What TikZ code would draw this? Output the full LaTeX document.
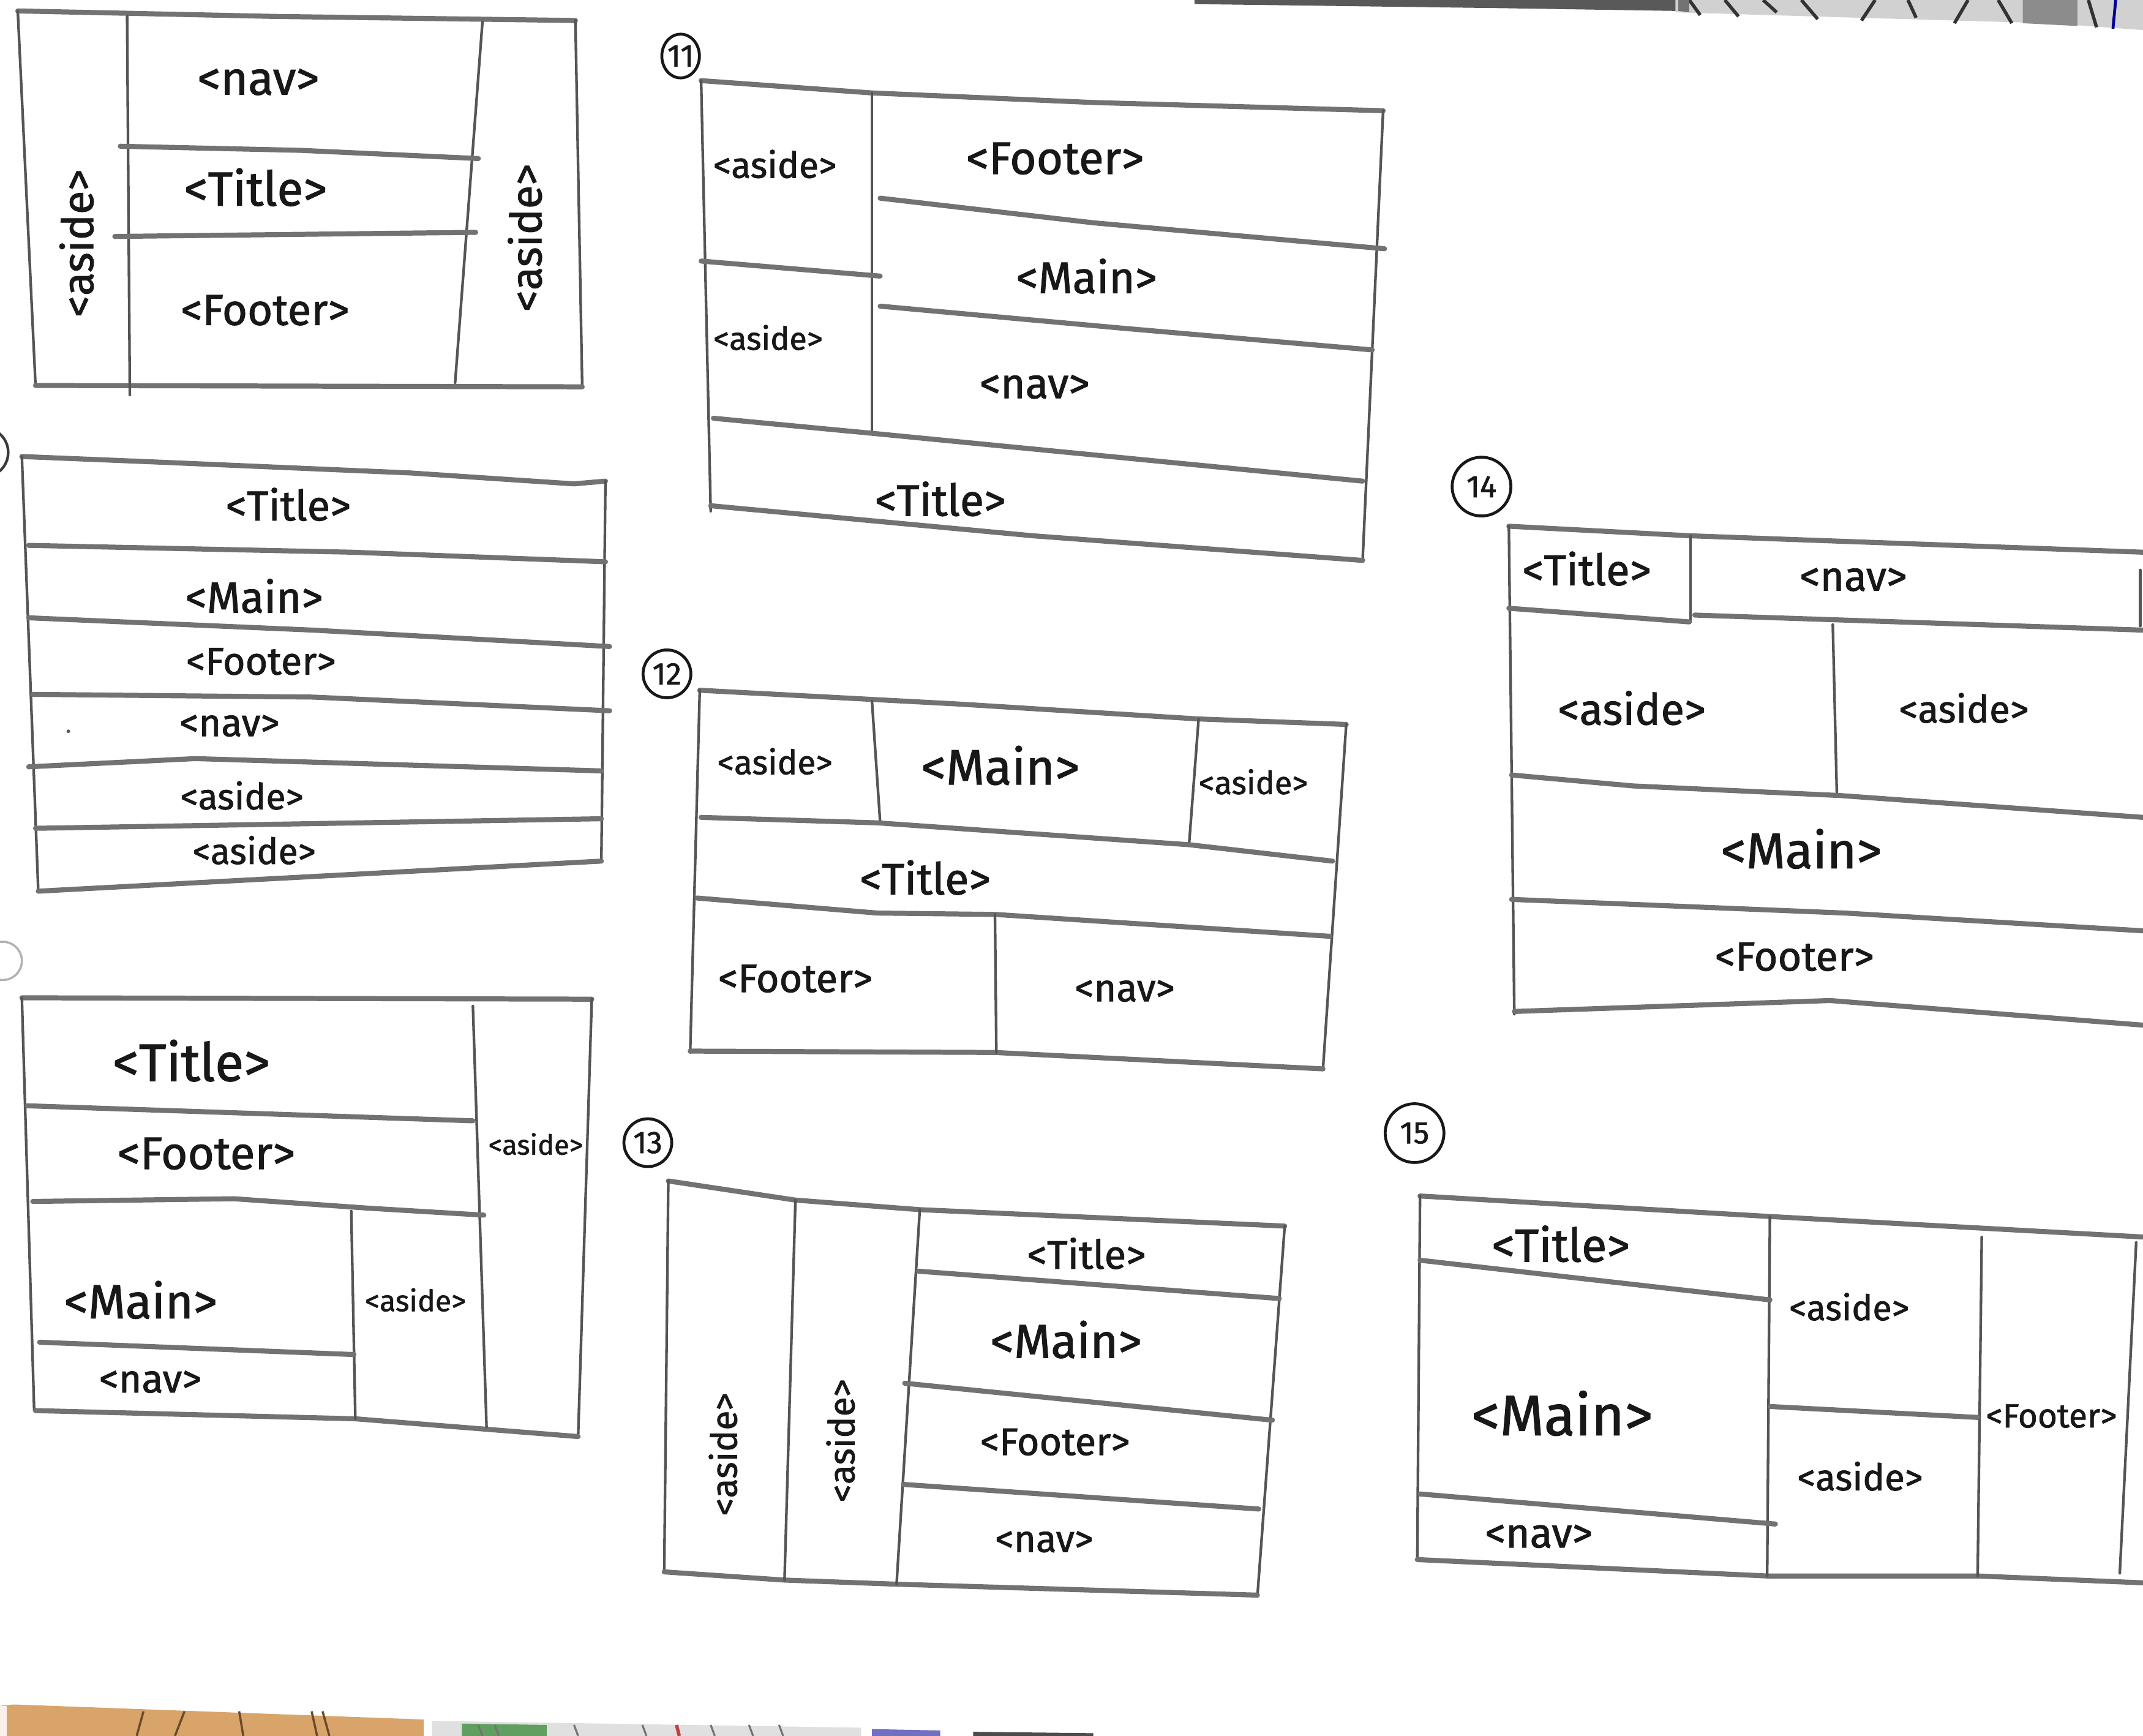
\documentclass[tikz,border=0pt]{standalone}
\usepackage{fontspec}
\setmainfont{Fira Sans}[FakeBold=1.3]
\usetikzlibrary{shapes.geometric}
\definecolor{ink}{HTML}{181818}
\definecolor{pencil}{HTML}{727272}
\definecolor{pencilv}{HTML}{555555}
\definecolor{woodc}{HTML}{D8A46A}
\definecolor{woodline}{HTML}{6B4A2A}
\tikzset{
  hl/.style={draw=pencil, line width=2.1pt, line cap=round, line join=round},
  vl/.style={draw=pencilv, line width=1.1pt, line cap=round, line join=round},
  lbl/.style={text=ink, inner sep=0pt, font=\fontsize{#1}{#1}\selectfont},
  lbl/.default=18,
  num/.style={draw=ink, line width=1.2pt, circle, inner sep=0pt, minimum size=#1,
              text=ink, font=\fontsize{13}{13}\selectfont},
}
\begin{document}
\begin{tikzpicture}[x=0.02cm, y=-0.02cm]
\clip (0,0) rectangle (1568,1270);
\fill[white] (0,0) rectangle (1568,1270);

% ---------- photo edges around the sheet ----------
\fill[black!65] (874,0) -- (874,3) -- (1100,6) -- (1226,8) -- (1226,0) -- cycle;
\fill[black!18] (1226,0) -- (1226,9) -- (1360,13) -- (1500,17) -- (1568,22) -- (1568,0) -- cycle;
\foreach \a/\b/\c/\d in {1236/0/1244/11, 1262/0/1272/12, 1290/0/1300/9, 1318/0/1330/14,
  1372/0/1362/15, 1396/0/1402/13, 1440/0/1430/17, 1462/0/1472/17, 1528/0/1534/20}
  \draw[black!80, line width=1.4pt] (\a,\b) -- (\c,\d);
\fill[black!55] (1228,0) -- (1228,8) -- (1236,9) -- (1236,0) -- cycle;
\fill[black!45] (1480,0) -- (1480,17) -- (1520,19) -- (1520,0) -- cycle;
\draw[blue!60!black, line width=1.2pt] (1548,0) -- (1546,21);

\fill[woodc] (0,1248) -- (10,1247) -- (310,1258) -- (310,1270) -- (0,1270) -- cycle;
\fill[white!85!woodc] (0,1248) -- (5,1248) -- (5,1270) -- (0,1270) -- cycle;
\foreach \a/\b in {105/100, 135/128, 175/178, 228/232, 236/241}
  \draw[woodline, line width=0.9pt] (\a,1252) -- (\b,1270);
\fill[black!12] (316,1259) -- (630,1264) -- (630,1270) -- (316,1270) -- cycle;
\fill[green!25!gray] (338,1261) -- (400,1262) -- (400,1270) -- (338,1270) -- cycle;
\foreach \a in {350,362,420,470,520,548,570}
  \draw[black!55, line width=0.8pt] (\a,1262) -- (\a+3,1270);
\draw[red!50!gray, line width=1.4pt] (495,1262) -- (497,1270);
\fill[blue!40!gray!80] (638,1265) -- (688,1266) -- (688,1270) -- (638,1270) -- cycle;
\fill[black!70] (712,1267) -- (800,1268) -- (800,1270) -- (712,1270) -- cycle;

% ---------- fragments of numbers at the left edge ----------
\draw[ink!85, line width=1.1pt] (-12,331) circle (18);
\draw[black!30, line width=0.9pt] (2,703) circle (14);

% ---------- layout A: aside | nav / Title / Footer | aside ----------
\draw[hl] (13,8) -- (200,12) -- (421,15);
\draw[vl] (13,8) -- (26,282);
\draw[vl] (421,15) -- (426,283);
\draw[hl] (26,282) -- (426,283);
\draw[vl] (93,12) -- (95,289);
\draw[vl] (353,16) -- (333,280);
\draw[hl] (88,107) -- (220,110) -- (350,116);
\draw[hl] (84,173) -- (348,170);
\node[lbl=19.5] (a-nav) at (189,60) {<nav>};
\node[lbl=20] (a-title) at (187,137) {<Title>};
\node[lbl=18] (a-footer) at (194,227) {<Footer>};
\node[lbl=18, rotate=90] (a-aside1) at (56,178) {<aside>};
\node[lbl=18, rotate=90] (a-aside2) at (384,174) {<aside>};

% ---------- layout B: six stacked rows ----------
\draw[hl] (16,334) -- (114,338) -- (300,346) -- (420,354) -- (443,352);
\draw[vl] (16,334) -- (28,652);
\draw[vl] (443,352) -- (440,630);
\draw[hl] (28,652) -- (440,630);
\draw[hl] (21,399) -- (257,404) -- (443,411);
\draw[hl] (21,452) -- (229,461) -- (446,473);
\draw[hl] (24,508) -- (229,510) -- (446,520);
\draw[hl] (21,561) -- (143,555) -- (440,564);
\draw[hl] (26,606) -- (440,599);
\fill[pencilv] (50,535) circle (1.3);
\node[lbl=17.5] (b-title) at (211,369) {<Title>};
\node[lbl=18] (b-main) at (186,436) {<Main>};
\node[lbl=16] (b-footer) at (191,484) {<Footer>};
\node[lbl=16] (b-nav) at (168,531) {<nav>};
\node[lbl=15] (b-aside1) at (177,582) {<aside>};
\node[lbl=15] (b-aside2) at (186,622) {<aside>};

% ---------- layout C ----------
\draw[hl] (16,730) -- (433,731);
\draw[vl] (16,730) -- (25,1032);
\draw[vl] (433,731) -- (423,1051);
\draw[hl] (26,1032) -- (260,1038) -- (423,1051);
\draw[vl] (346,736) -- (356,1044);
\draw[hl] (20,809) -- (346,820);
\draw[hl] (24,879) -- (171,877) -- (271,884) -- (354,889);
\draw[vl] (257,886) -- (260,1038);
\draw[hl] (29,982) -- (259,991);
\node[lbl=22] (c-title) at (140,776) {<Title>};
\node[lbl=19] (c-footer) at (151,844) {<Footer>};
\node[lbl=11.5] (c-aside1) at (392,837) {<aside>};
\node[lbl=20] (c-main) at (103,951) {<Main>};
\node[lbl=12.3] (c-aside2) at (304,951) {<aside>};
\node[lbl=16.4] (c-nav) at (110,1011) {<nav>};

% ---------- layout 11 ----------
\node[num, ellipse, minimum width=0.42cm, minimum height=0.64cm] (n11) at (498,41) {11};
\draw[hl] (513,59) -- (638,68) -- (800,75) -- (1012,81);
\draw[vl] (513,59) -- (520,374);
\draw[vl] (1012,81) -- (997,410);
\draw[hl] (520,370) -- (756,392) -- (997,410);
\draw[vl] (638,68) -- (638,317);
\draw[hl] (513,191) -- (644,202);
\draw[hl] (644,145) -- (800,163) -- (1013,182);
\draw[hl] (644,224) -- (820,240) -- (1004,256);
\draw[hl] (522,306) -- (638,317) -- (997,352);
\node[lbl=15] (k-aside1) at (567,120) {<aside>};
\node[lbl=19] (k-footer) at (772,116) {<Footer>};
\node[lbl=18.4] (k-main) at (795,202) {<Main>};
\node[lbl=13.3] (k-aside2) at (562,247) {<aside>};
\node[lbl=17.6] (k-nav) at (757,283) {<nav>};
\node[lbl=18.3] (k-title) at (688,365) {<Title>};

% ---------- layout 12 ----------
\node[num, minimum size=0.7cm] (n12) at (488,493) {12};
\draw[hl] (512,505) -- (700,515) -- (877,526) -- (985,530);
\draw[vl] (512,505) -- (505,770);
\draw[vl] (985,530) -- (968,782);
\draw[hl] (505,769) -- (728,770) -- (968,782);
\draw[vl] (638,513) -- (644,602);
\draw[vl] (877,526) -- (870,618);
\draw[hl] (513,598) -- (642,602) -- (870,618) -- (975,630);
\draw[hl] (510,657) -- (642,668) -- (728,669) -- (973,685);
\draw[vl] (728,669) -- (729,770);
\node[lbl=14] (l-aside1) at (567,557) {<aside>};
\node[lbl=20.7] (l-main) at (732,560) {<Main>};
\node[lbl=13.3] (l-aside2) at (917,572) {<aside>};
\node[lbl=18.3] (l-title) at (677,642) {<Title>};
\node[lbl=16.5] (l-footer) at (582,716) {<Footer>};
\node[lbl=16] (l-nav) at (823,725) {<nav>};

% ---------- layout 13 ----------
\node[num, minimum size=0.7cm] (n13) at (474,836) {13};
\draw[hl] (489,864) -- (582,878) -- (673,885) -- (940,897);
\draw[vl] (489,864) -- (486,1150);
\draw[vl] (940,897) -- (920,1168);
\draw[hl] (486,1150) -- (574,1156) -- (656,1159) -- (920,1167);
\draw[vl] (582,878) -- (574,1156);
\draw[vl] (673,885) -- (656,1159);
\draw[hl] (672,930) -- (936,950);
\draw[hl] (662,1012) -- (931,1039);
\draw[hl] (661,1086) -- (921,1104);
\node[lbl=15, rotate=90] (m-aside1) at (529,1064) {<aside>};
\node[lbl=15, rotate=90] (m-aside2) at (615,1054) {<aside>};
\node[lbl=16.6] (m-title) at (795,917) {<Title>};
\node[lbl=19.8] (m-main) at (780,980) {<Main>};
\node[lbl=16] (m-footer) at (772,1055) {<Footer>};
\node[lbl=15.7] (m-nav) at (764,1128) {<nav>};

% ---------- layout 14 ----------
\node[num, minimum size=0.86cm] (n14) at (1084,356) {14};
\draw[hl] (1104,385) -- (1237,392) -- (1568,404);
\draw[vl] (1104,385) -- (1108,742);
\draw[hl] (1108,740) -- (1339,732) -- (1568,750);
\draw[vl] (1237,392) -- (1237,455);
\draw[hl] (1104,445) -- (1236,455);
\draw[hl] (1240,450) -- (1568,461);
\draw[vl] (1566,417) -- (1566,458);
\draw[vl] (1341,457) -- (1344,582);
\draw[hl] (1106,567) -- (1195,575) -- (1346,582) -- (1568,598);
\draw[hl] (1106,658) -- (1350,668) -- (1568,681);
\node[lbl=18] (p-title) at (1161,416) {<Title>};
\node[lbl=17.2] (p-nav) at (1356,424) {<nav>};
\node[lbl=18] (p-aside1) at (1194,518) {<aside>};
\node[lbl=15.8] (p-aside2) at (1437,518) {<aside>};
\node[lbl=21] (p-main) at (1318,621) {<Main>};
\node[lbl=17] (p-footer) at (1313,700) {<Footer>};

% ---------- layout 15 ----------
\node[num, minimum size=0.86cm] (n15) at (1035,829) {15};
\draw[hl] (1039,875) -- (1295,890) -- (1568,905);
\draw[vl] (1039,875) -- (1037,1141);
\draw[hl] (1037,1141) -- (1293,1153) -- (1447,1153) -- (1568,1158);
\draw[vl] (1295,890) -- (1293,1153);
\draw[vl] (1450,905) -- (1447,1153);
\draw[vl] (1563,909) -- (1551,1151);
\draw[hl] (1039,922) -- (1295,951);
\draw[hl] (1039,1093) -- (1299,1115);
\draw[hl] (1295,1029) -- (1447,1037);
\node[lbl=19.3] (q-title) at (1142,910) {<Title>};
\node[lbl=14.6] (q-aside1) at (1353,956) {<aside>};
\node[lbl=23.7] (q-main) at (1143,1034) {<Main>};
\node[lbl=15.3] (q-aside2) at (1361,1080) {<aside>};
\node[lbl=14] (q-footer) at (1501,1036) {<Footer>};
\node[lbl=17.2] (q-nav) at (1126,1124) {<nav>};
\end{tikzpicture}
\end{document}
